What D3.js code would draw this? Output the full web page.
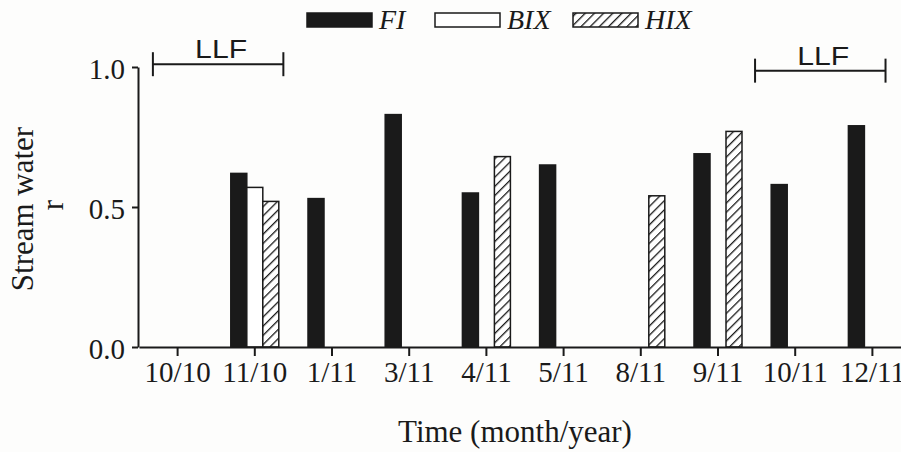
<!DOCTYPE html>
<meta charset="utf-8">
<script src="https://d3js.org/d3.v7.min.js"></script>
<style>
  body { margin: 0; background: #fdfdfc; }
  text { font-family: "Liberation Serif", "Times New Roman", serif; fill: #1a1a1a; }
</style>
<div id="my_dataviz"></div>
<script>
    // data
    var months = ["10/10", "11/10", "1/11", "3/11", "4/11", "5/11", "8/11", "9/11", "10/11", "12/11"]
    var fiValues  = [null, 0.62, 0.53, 0.83, 0.55, 0.65, null, 0.69, 0.58, 0.79]
    var bixValues = [null, 0.57, null, null, null, null, null, null, null, null]
    var hixValues = [null, 0.52, null, null, 0.68, null, 0.54, 0.77, null, null]
    var seriesNames = ["FI", "BIX", "HIX"]
    var yTicks = [0, 0.5, 1.0]
    // LLF periods in category-index units
    var llfStart = [-0.32, 7.48]
    var llfEnd = [1.37, 9.17]
    var llfLevel = [1.01, 0.987]

    var width = 901, height = 452
    var plot = {left: 138, right: 911, top: 67, bottom: 347}

    var svg = d3.select("#my_dataviz")
      .append("svg")
        .attr("width", width)
        .attr("height", height)

    // hatch pattern for HIX
    var pat = svg.append("defs").append("pattern")
        .attr("id", "hatch")
        .attr("patternUnits", "userSpaceOnUse")
        .attr("width", 6.5)
        .attr("height", 6.5)
        .attr("patternTransform", "rotate(45)")
    pat.append("rect").attr("width", 6.5).attr("height", 6.5).attr("fill", "#fff")
    pat.append("line")
        .attr("x1", 0).attr("y1", 0).attr("x2", 0).attr("y2", 6.5)
        .attr("stroke", "#1a1a1a")
        .attr("stroke-width", 2.6)

    var x = d3.scaleBand()
      .domain(months)
      .range([plot.left + 1, plot.right])
    var groupWidth = 48
    var x1 = d3.scaleBand()
      .domain(seriesNames)
      .range([(x.bandwidth() - groupWidth) / 2, (x.bandwidth() + groupWidth) / 2])
    var xIdx = d3.scaleLinear()
      .domain([0, months.length - 1])
      .range([x(months[0]) + x.bandwidth() / 2, x(months[months.length - 1]) + x.bandwidth() / 2])

    var y = d3.scaleLinear()
      .domain([0, 1])
      .range([plot.bottom, plot.top])

    // build rows for the bars
    var rows = []
    months.forEach(function(m, i) {
        [fiValues, bixValues, hixValues].forEach(function(arr, j) {
            if (arr[i] != null) rows.push({month: m, series: seriesNames[j], value: arr[i]})
        })
    })
    var fills = {FI: "#1a1a1a", BIX: "#ffffff", HIX: "url(#hatch)"}

    svg.append("g")
      .selectAll("rect")
      .data(rows)
      .enter()
      .append("rect")
        .attr("x", function(d) { return x(d.month) + x1(d.series) })
        .attr("y", function(d) { return y(d.value) })
        .attr("width", x1.bandwidth())
        .attr("height", function(d) { return y(0) - y(d.value) })
        .attr("fill", function(d) { return fills[d.series] })
        .attr("stroke", "#1a1a1a")
        .attr("stroke-width", 1.5)

    // X axis
    var xAxis = svg.append("g")
      .attr("transform", "translate(0," + plot.bottom + ")")
      .call(d3.axisBottom(x).tickSizeInner(9).tickSizeOuter(0).tickPadding(5))
    xAxis.select(".domain").attr("stroke", "#1a1a1a").attr("stroke-width", 2)
    xAxis.selectAll(".tick line").attr("stroke", "#1a1a1a").attr("stroke-width", 2)
    xAxis.selectAll(".tick text")
      .style("font-family", "Liberation Serif")
      .style("font-size", "29px")
      .attr("fill", "#1a1a1a")

    // Y axis
    var yAxis = svg.append("g")
      .attr("transform", "translate(" + plot.left + ",0)")
      .call(d3.axisLeft(y).tickValues(yTicks).tickFormat(d3.format(".1f")).tickSizeInner(6).tickSizeOuter(0).tickPadding(7))
    yAxis.select(".domain").attr("stroke", "#1a1a1a").attr("stroke-width", 2)
    yAxis.selectAll(".tick line").attr("stroke", "#1a1a1a").attr("stroke-width", 2)
    yAxis.selectAll(".tick text")
      .style("font-family", "Liberation Serif")
      .style("font-size", "29px")
      .attr("fill", "#1a1a1a")
      .attr("dy", "0.38em")

    // axis titles
    svg.append("text")
      .attr("x", 515)
      .attr("y", 442)
      .attr("text-anchor", "middle")
      .style("font-size", "31px")
      .text("Time (month/year)")
    var yTitle = svg.append("text")
      .attr("transform", "translate(33,209) rotate(-90)")
      .attr("text-anchor", "middle")
      .style("font-size", "31px")
    yTitle.append("tspan").attr("x", 0).attr("y", 0).text("Stream water")
    yTitle.append("tspan").attr("x", 4).attr("y", 30).text("r")

    // LLF brackets
    llfStart.forEach(function(s, i) {
        var x0 = xIdx(s), x2 = xIdx(llfEnd[i]), yy = y(llfLevel[i])
        var g = svg.append("g").attr("stroke", "#1a1a1a").attr("stroke-width", 2)
        g.append("line").attr("x1", x0).attr("x2", x2).attr("y1", yy).attr("y2", yy)
        g.append("line").attr("x1", x0).attr("x2", x0).attr("y1", yy - 12).attr("y2", yy + 12)
        g.append("line").attr("x1", x2).attr("x2", x2).attr("y1", yy - 12).attr("y2", yy + 12)
        svg.append("text")
          .attr("x", (x0 + x2) / 2 + 3)
          .attr("y", yy - 6)
          .attr("text-anchor", "middle")
          .style("font-family", "'Liberation Sans', Arial, sans-serif")
          .style("font-size", "25px")
          .attr("textLength", 52)
          .attr("lengthAdjust", "spacingAndGlyphs")
          .text("LLF")
    })

    // legend
    var legendX = [307, 435, 573]
    var legend = svg.append("g")
    seriesNames.forEach(function(s, i) {
        legend.append("rect")
          .attr("x", legendX[i])
          .attr("y", 13)
          .attr("width", 65)
          .attr("height", 14)
          .attr("fill", fills[s])
          .attr("stroke", "#1a1a1a")
          .attr("stroke-width", 1.5)
        legend.append("text")
          .attr("x", legendX[i] + 72)
          .attr("y", 29)
          .style("font-size", "28px")
          .style("font-style", "italic")
          .text(s)
    })
</script>
